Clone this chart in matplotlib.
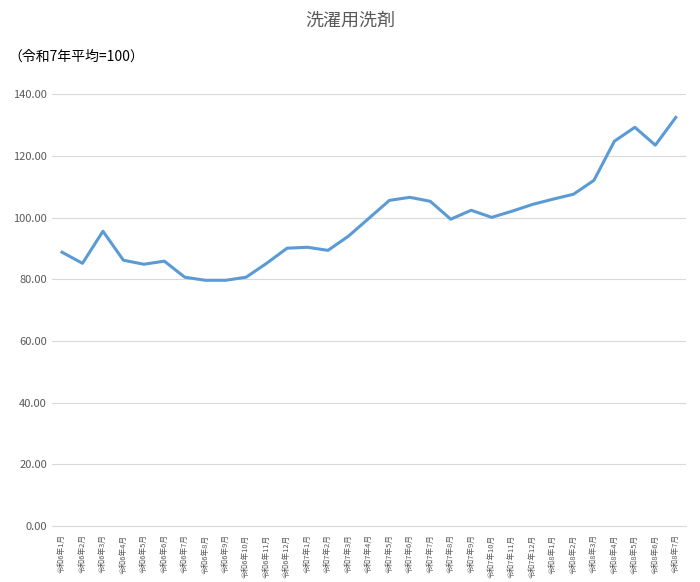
import matplotlib
matplotlib.use("Agg")
import matplotlib.pyplot as plt

plt.rcParams['font.family'] = ['Noto Sans CJK JP', 'DejaVu Sans']

labels = [f"令和6年{m}月" for m in range(1, 13)] + [f"令和7年{m}月" for m in range(1, 13)] + [f"令和8年{m}月" for m in range(1, 8)]
values = [88.8, 85.2, 95.6, 86.2, 84.9, 85.9, 80.7, 79.7, 79.7, 80.7, 85.2, 90.1,
          90.4, 89.4, 94.0, 99.8, 105.6, 106.6, 105.3, 99.5, 102.4, 100.1, 102.1, 104.3,
          106.0, 107.6, 112.1, 124.8, 129.3, 123.5, 132.5]

fig = plt.figure(figsize=(7, 5.82), dpi=100)
ax = fig.add_axes([0.074, 0.096, 0.906, 0.742])
x = list(range(len(values)))
ax.plot(x, values, color='#5b9bd5', linewidth=2.2)
ax.set_ylim(0, 140)
ax.set_yticks(range(0, 141, 20))
ax.set_yticklabels([f"{v:.2f}" for v in range(0, 141, 20)], fontsize=8, color='#595959')
ax.set_xlim(-0.5, len(values) - 0.5)
ax.set_xticks(x)
ax.set_xticklabels(labels, rotation=90, fontsize=5.5, color='#595959')
ax.grid(axis='y', color='#d9d9d9', linewidth=0.8)
ax.set_axisbelow(True)
for s in ['top', 'right', 'left']:
    ax.spines[s].set_visible(False)
ax.spines['bottom'].set_color('#d9d9d9')
ax.tick_params(length=0)
ax.tick_params(axis='x', pad=6)
fig.text(0.5, 0.955, "洗濯用洗剤", ha='center', fontsize=13, color='#595959')
fig.text(0.012, 0.895, "（令和7年平均=100）", fontsize=10, color='#000000')
fig.savefig("out.png", dpi=100)
